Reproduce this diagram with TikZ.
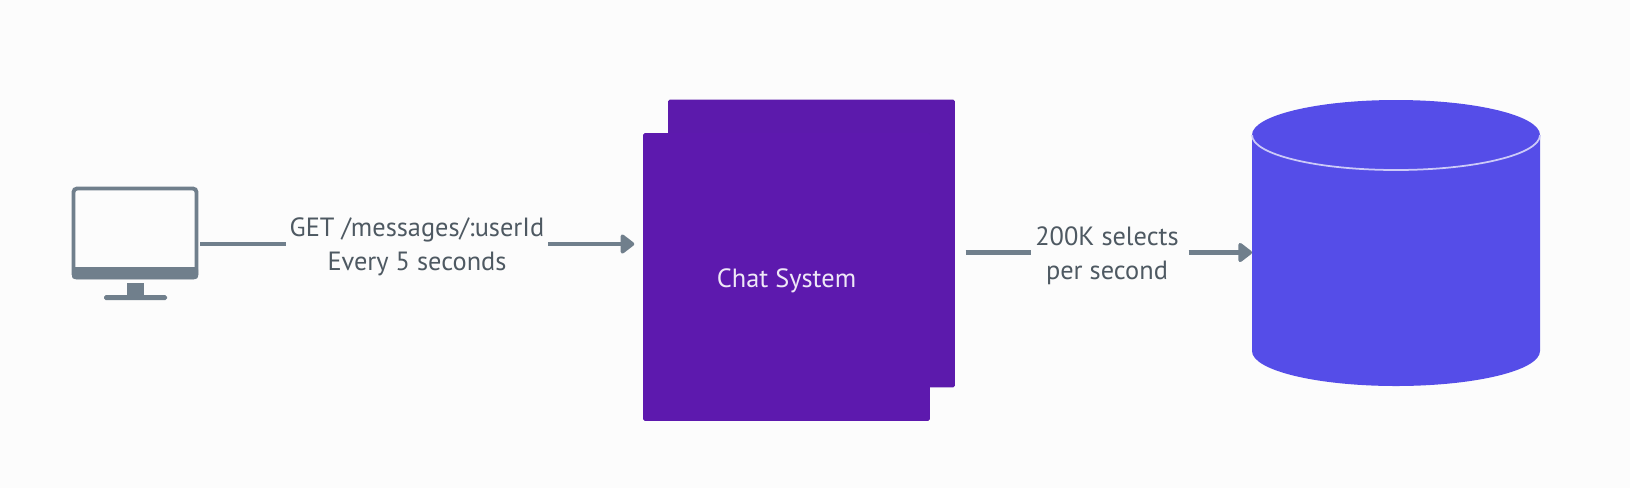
\documentclass[tikz,border=0pt]{standalone}
\usepackage{fontspec}
\setmainfont{PT Sans}
\usetikzlibrary{positioning,calc,arrows.meta}
\definecolor{slategrey}{HTML}{707F8C}
\definecolor{chatpurple}{HTML}{5D19AE}
\definecolor{backpurple}{HTML}{5C1AAC}
\definecolor{storeblue}{HTML}{554DE8}
\tikzset{
  linkline/.style={draw=slategrey,line width=2.4pt},
  linkarrow/.style={linkline,-{Triangle[length=8.5pt,width=12.5pt,round]}},
  linklabel/.style={text=slategrey!70!black,font=\fontsize{15}{19.3}\selectfont,align=center},
  chatbox/.style={fill=chatpurple,rounded corners=1pt,minimum width=5.74cm,minimum height=5.76cm}
}
\begin{document}
\begin{tikzpicture}[x=0.02cm,y=0.02cm]
\tikzstyle{every node}+=[inner sep=0pt,outer sep=0pt]
\useasboundingbox (0,0) rectangle (1630,-488);
\fill [white!99!black] (0,0) rectangle (1630,-488);
% client screen
\node (screen) at (135,-233) [draw=slategrey,line width=2.2pt,rounded corners=2pt,minimum width=2.46cm,minimum height=1.78cm] {};
\fill [slategrey,rounded corners=1.5pt] (72,-267) rectangle (198,-279);
\fill [slategrey] (127,-283) rectangle (144,-297);
\fill [slategrey,rounded corners=1pt] (104,-295) rectangle (167,-300);
% chat system, two boxes
\node (backbox) at (811.5,-243.5) [chatbox,fill=backpurple] {};
\node (frontbox) at (786.5,-277) [chatbox] {};
\node (chatlabel) at (786.5,-281) [text=white!90!chatpurple,font=\fontsize{15}{17}\selectfont] {Chat System};
% store
\node (store) at (1396,-243) [minimum width=5.76cm,minimum height=5.72cm] {};
\fill [storeblue] (1252,-135) arc (180:0:144 and 35) -- (1540,-351) arc (0:-180:144 and 35) -- cycle;
\draw [white!70!storeblue,line width=1pt] (1252,-135) arc (180:360:144 and 35);
% labels
\node (getlabel) at (417,-247) [linklabel] {GET /messages/:userId\\Every 5 seconds};
\node (selectslabel) at (1107,-255.5) [linklabel] {200K selects\\per second};
% links
\draw [linkline] ($(screen.east |- getlabel)+(4,3)$) -- ($(getlabel.west)+(-4,3)$);
\draw [linkarrow,shorten >=5pt] ($(getlabel.east)+(4,3)$) -- ($(frontbox.west |- getlabel)+(0,3)$);
\draw [linkline,shorten <=6pt] ($(backbox.east |- selectslabel)+(0,3)$) -- ($(selectslabel.west)+(-4,3)$);
\draw [linkarrow] ($(selectslabel.east)+(10,3)$) -- ($(store.west |- selectslabel)+(0,3)$);
\end{tikzpicture}
\end{document}
